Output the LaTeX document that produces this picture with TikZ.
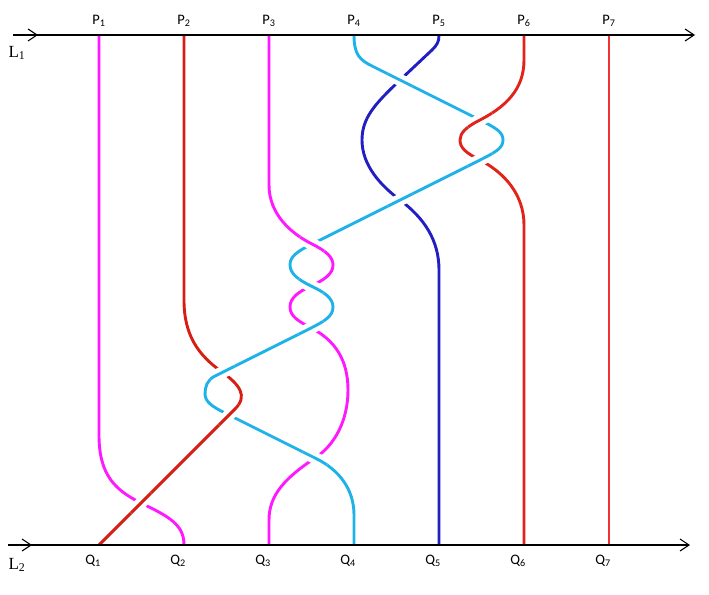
\documentclass[tikz,border=0pt]{standalone}
\usepackage{fontspec}
\setmainfont{Carlito}
\newfontfamily\serifL{Liberation Serif}
\usetikzlibrary{arrows.meta}
\definecolor{magc}{RGB}{255,25,255}
\definecolor{redA}{RGB}{215,30,20}
\definecolor{redB}{RGB}{225,35,25}
\definecolor{redC}{RGB}{242,50,50}
\definecolor{cyc}{RGB}{30,178,232}
\definecolor{blc}{RGB}{35,30,195}
\newcommand\overcross[3]{%
  \begin{scope}
    \clip (#1) circle [radius=14pt];
    \draw[gapw] #3;
    \draw[strand,#2] #3;
  \end{scope}}
\begin{document}
\begin{tikzpicture}[x=1pt,y=-1pt,
  axis/.style={line width=1.1pt,black},
  tipst/.style={-{Straight Barb[length=9pt,width=12pt]}},
  strand/.style={line width=2.9pt},
  gapw/.style={white,line width=12pt},
  plab/.style={font=\fontsize{14.5}{14.5}\selectfont,inner sep=0pt},
  llab/.style={font=\serifL\fontsize{17}{17}\selectfont,inner sep=0pt}]
\useasboundingbox (0,0) rectangle (709,594);
% end points
\coordinate (P1) at (99,35);  \coordinate (Q1) at (99,545);
\coordinate (P2) at (184,35); \coordinate (Q2) at (184,545);
\coordinate (P3) at (269,35); \coordinate (Q3) at (269,545);
\coordinate (P4) at (354,35); \coordinate (Q4) at (354,545);
\coordinate (P5) at (439,35); \coordinate (Q5) at (439,545);
\coordinate (P6) at (524,35); \coordinate (Q6) at (524,545);
\coordinate (P7) at (609,35); \coordinate (Q7) at (609,545);
% crossings
\coordinate (X1) at (400,80);
\coordinate (X2) at (480,120);
\coordinate (X3) at (480,160);
\coordinate (X4) at (400,200);
\coordinate (X5) at (312,244);
\coordinate (X6) at (311,286);
\coordinate (X7) at (311,328);
\coordinate (X8) at (222,372);
\coordinate (X9) at (229,415);
\coordinate (X10) at (315,458);
\coordinate (X11) at (141,503);
% strand paths
\def\strMagA{(P1) -- (99,435) .. controls (99,475) and (115,490) .. (141,503) .. controls (170,517) and (184,525) .. (Q2)}
\def\strRedA{(P2) -- (184,300) .. controls (184,335) and (198,355) .. (222,372) .. controls (240,385) and (248,396) .. (235,409) -- (Q1)}
\def\strMagB{(P3) -- (269,185) .. controls (269,215) and (292,234) .. (312,244) .. controls (326,251) and (333,257) .. (333,265) .. controls (333,274) and (324,280) .. (311,286) .. controls (298,292) and (290,298) .. (290,307) .. controls (290,316) and (298,321) .. (311,328) .. controls (335,340) and (348,360) .. (348,390) .. controls (348,420) and (335,445) .. (315,458) .. controls (285,478) and (269,495) .. (269,520) -- (Q3)}
\def\strCyan{(P4) .. controls (354,55) and (360,60) .. (372,66) -- (480,120) .. controls (496,128) and (503,132) .. (503,140) .. controls (503,148) and (496,152) .. (480,160) -- (312,244) .. controls (296,252) and (290,257) .. (290,265) .. controls (290,274) and (299,280) .. (311,286) .. controls (324,292) and (333,298) .. (333,307) .. controls (333,316) and (325,321) .. (311,328) -- (215,376) .. controls (207,380) and (205,387) .. (205,394) .. controls (205,402) and (213,407) .. (225,413) -- (315,458) .. controls (340,470) and (354,490) .. (354,515) -- (Q4)}
\def\strBlue{(P5) .. controls (439,42) and (437,45) .. (432,50) -- (398,82) .. controls (375,104) and (362,118) .. (362,140) .. controls (362,165) and (380,185) .. (400,200) .. controls (424,218) and (439,240) .. (439,270) -- (Q5)}
\def\strRedB{(P6) -- (524,60) .. controls (524,90) and (505,107) .. (480,120) .. controls (466,127) and (460,133) .. (460,140) .. controls (460,148) and (466,153) .. (480,160) .. controls (505,173) and (524,195) .. (524,225) -- (Q6)}
% strands
\draw[strand,magc] \strMagA;
\draw[strand,redA] \strRedA;
\draw[strand,magc] \strMagB;
\draw[strand,cyc] \strCyan;
\draw[strand,blc] \strBlue;
\draw[strand,redB] \strRedB;
\draw[strand,redC] (P7) -- (Q7);
% over-crossings
\overcross{X1}{cyc}{\strCyan}
\overcross{X2}{redB}{\strRedB}
\overcross{X3}{cyc}{\strCyan}
\overcross{X4}{cyc}{\strCyan}
\overcross{X5}{magc}{\strMagB}
\overcross{X6}{cyc}{\strCyan}
\overcross{X7}{cyc}{\strCyan}
\overcross{X8}{cyc}{\strCyan}
\overcross{X9}{redA}{\strRedA}
\overcross{X10}{cyc}{\strCyan}
\overcross{X11}{redA}{\strRedA}
% axes
\coordinate (A1s) at (13,35); \coordinate (A1m) at (38,35); \coordinate (A1e) at (695,35);
\coordinate (A2s) at (8,545); \coordinate (A2m) at (32,545); \coordinate (A2e) at (690,545);
\draw[axis,tipst] (A1s) -- (A1e);
\draw[axis,tipst] (A1s) -- (A1m);
\draw[axis,tipst] (A2s) -- (A2e);
\draw[axis,tipst] (A2s) -- (A2m);
% labels
\node[llab] (lL1) at (17,53) {L\textsubscript{1}};
\node[llab] (lL2) at (17,565) {L\textsubscript{2}};
\node[plab] (lP1) at (99,21) {P\textsubscript{1}};
\node[plab] (lP2) at (184,21) {P\textsubscript{2}};
\node[plab] (lP3) at (269,21) {P\textsubscript{3}};
\node[plab] (lP4) at (354,21) {P\textsubscript{4}};
\node[plab] (lP5) at (439,21) {P\textsubscript{5}};
\node[plab] (lP6) at (524,21) {P\textsubscript{6}};
\node[plab] (lP7) at (609,21) {P\textsubscript{7}};
\node[plab,anchor=east] (lQ1) at (101,561) {Q\textsubscript{1}};
\node[plab,anchor=east] (lQ2) at (186,561) {Q\textsubscript{2}};
\node[plab,anchor=east] (lQ3) at (271,561) {Q\textsubscript{3}};
\node[plab,anchor=east] (lQ4) at (356,561) {Q\textsubscript{4}};
\node[plab,anchor=east] (lQ5) at (441,561) {Q\textsubscript{5}};
\node[plab,anchor=east] (lQ6) at (526,561) {Q\textsubscript{6}};
\node[plab,anchor=east] (lQ7) at (611,561) {Q\textsubscript{7}};
\end{tikzpicture}
\end{document}
